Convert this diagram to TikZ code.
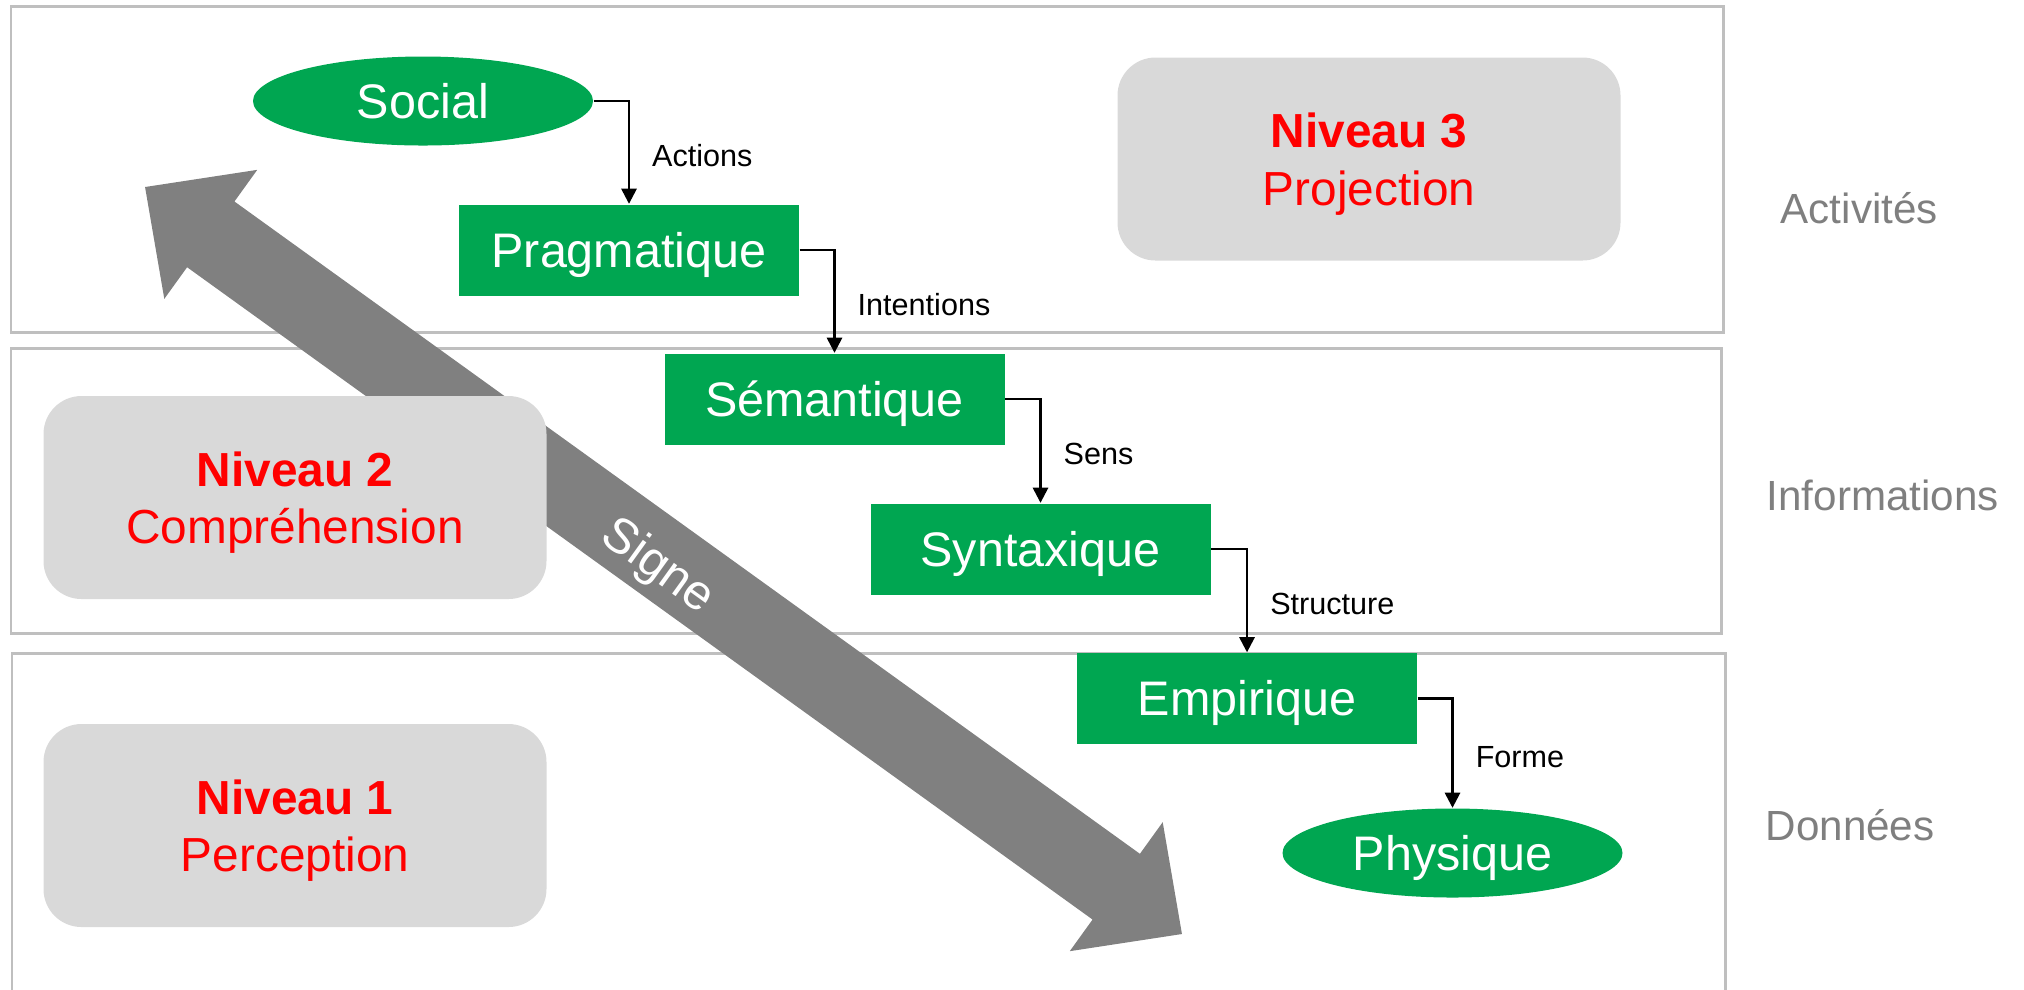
\documentclass[tikz,border=0pt]{standalone}
\usepackage{fontspec}
\setmainfont{Liberation Sans}
\usetikzlibrary{shapes.geometric,arrows.meta}
\definecolor{signgreen}{HTML}{00A651}
\definecolor{bandline}{HTML}{BFBFBF}
\definecolor{levelfill}{HTML}{D9D9D9}
\definecolor{arrowgray}{HTML}{808080}
\definecolor{sidegray}{HTML}{7F7F7F}
\definecolor{levelred}{HTML}{FF0000}
\tikzset{
  band/.style={draw=bandline, line width=0.85pt},
  greenbox/.style={rectangle, fill=signgreen, text=white, inner sep=0pt,
    text height=9.9pt, text depth=0pt,
    minimum width=3.40cm, minimum height=0.91cm, font=\fontsize{13.8}{16}\selectfont},
  greenoval/.style={ellipse, fill=signgreen, text=white, inner sep=0pt,
    text height=9.9pt, text depth=0pt,
    minimum width=3.40cm, minimum height=0.89cm, font=\fontsize{13.8}{16}\selectfont},
  levelbox/.style={rectangle, rounded corners=0.38cm, fill=levelfill, text=levelred,
    inner sep=0pt, text depth=0pt, minimum width=5.03cm, minimum height=2.03cm, align=center,
    font=\fontsize{13.6}{16.4}\selectfont},
  conn/.style={line width=0.7pt, -{Triangle[length=4.3pt,width=4.3pt]}},
  connlabel/.style={anchor=west, inner sep=0pt, xshift=0.22cm, yshift=-0.03cm,
    text height=6.2pt, text depth=0pt, font=\fontsize{8.7}{10}\selectfont},
  sidelabel/.style={anchor=west, inner sep=0pt, text=sidegray, font=\fontsize{12}{14}\selectfont}
}
\begin{document}
\begin{tikzpicture}
\useasboundingbox (0,0) rectangle (20.24,-9.89);

% the three layers
\draw[band] (0.11,-0.06) rectangle (17.23,-3.32);
\draw[band] (0.11,-3.48) rectangle (17.21,-6.33);
\draw[band] (0.12,-10.2) |- (17.25,-6.53) -- (17.25,-10.2);

% double-headed "Signe" arrow
\begin{scope}[shift={(6.635,-5.605)}, rotate=-35.77]
  \fill[arrowgray] (-6.39,0) -- (-5.58,0.795) -- (-5.58,0.405) -- (5.58,0.405)
    -- (5.58,0.795) -- (6.39,0) -- (5.58,-0.795) -- (5.58,-0.405)
    -- (-5.58,-0.405) -- (-5.58,-0.795) -- cycle;
\end{scope}
\node[text=white, rotate=-35.77, inner sep=0pt, text height=10pt, text depth=0pt,
  font=\fontsize{14}{16}\selectfont] (signe) at (6.60,-5.63) {Signe};

% levels
\node[levelbox] (n3) at (13.69,-1.59) {\textbf{Niveau 3}\\Projection};
\node[levelbox] (n2) at (2.95,-4.975) {\textbf{Niveau 2}\\Compréhension};
\node[levelbox] (n1) at (2.95,-8.255) {\textbf{Niveau 1}\\Perception};

% semiotic ladder
\node[greenoval] (social) at (4.23,-1.01) {Social};
\node[greenbox]  (prag)   at (6.29,-2.50) {Pragmatique};
\node[greenbox]  (sem)    at (8.345,-3.99) {Sémantique};
\node[greenbox]  (syn)    at (10.405,-5.49) {Syntaxique};
\node[greenbox]  (emp)    at (12.47,-6.985) {Empirique};
\node[greenoval] (phys)   at (14.525,-8.53) {Physique};

\draw[conn] (social.east) -| (prag.north) node[connlabel, pos=0.75] {Actions};
\draw[conn] (prag.east) -| (sem.north) node[connlabel, pos=0.75] {Intentions};
\draw[conn] (sem.east) -| (syn.north) node[connlabel, pos=0.75] {Sens};
\draw[conn] (syn.east) -| (emp.north) node[connlabel, pos=0.75] {Structure};
\draw[conn] (emp.east) -| (phys.north) node[connlabel, pos=0.75] {Forme};

% layer names
\node[sidelabel] (act) at (17.80,-2.08) {Activités};
\node[sidelabel] (inf) at (17.66,-4.95) {Informations};
\node[sidelabel] (don) at (17.65,-8.25) {Données};
\end{tikzpicture}
\end{document}
